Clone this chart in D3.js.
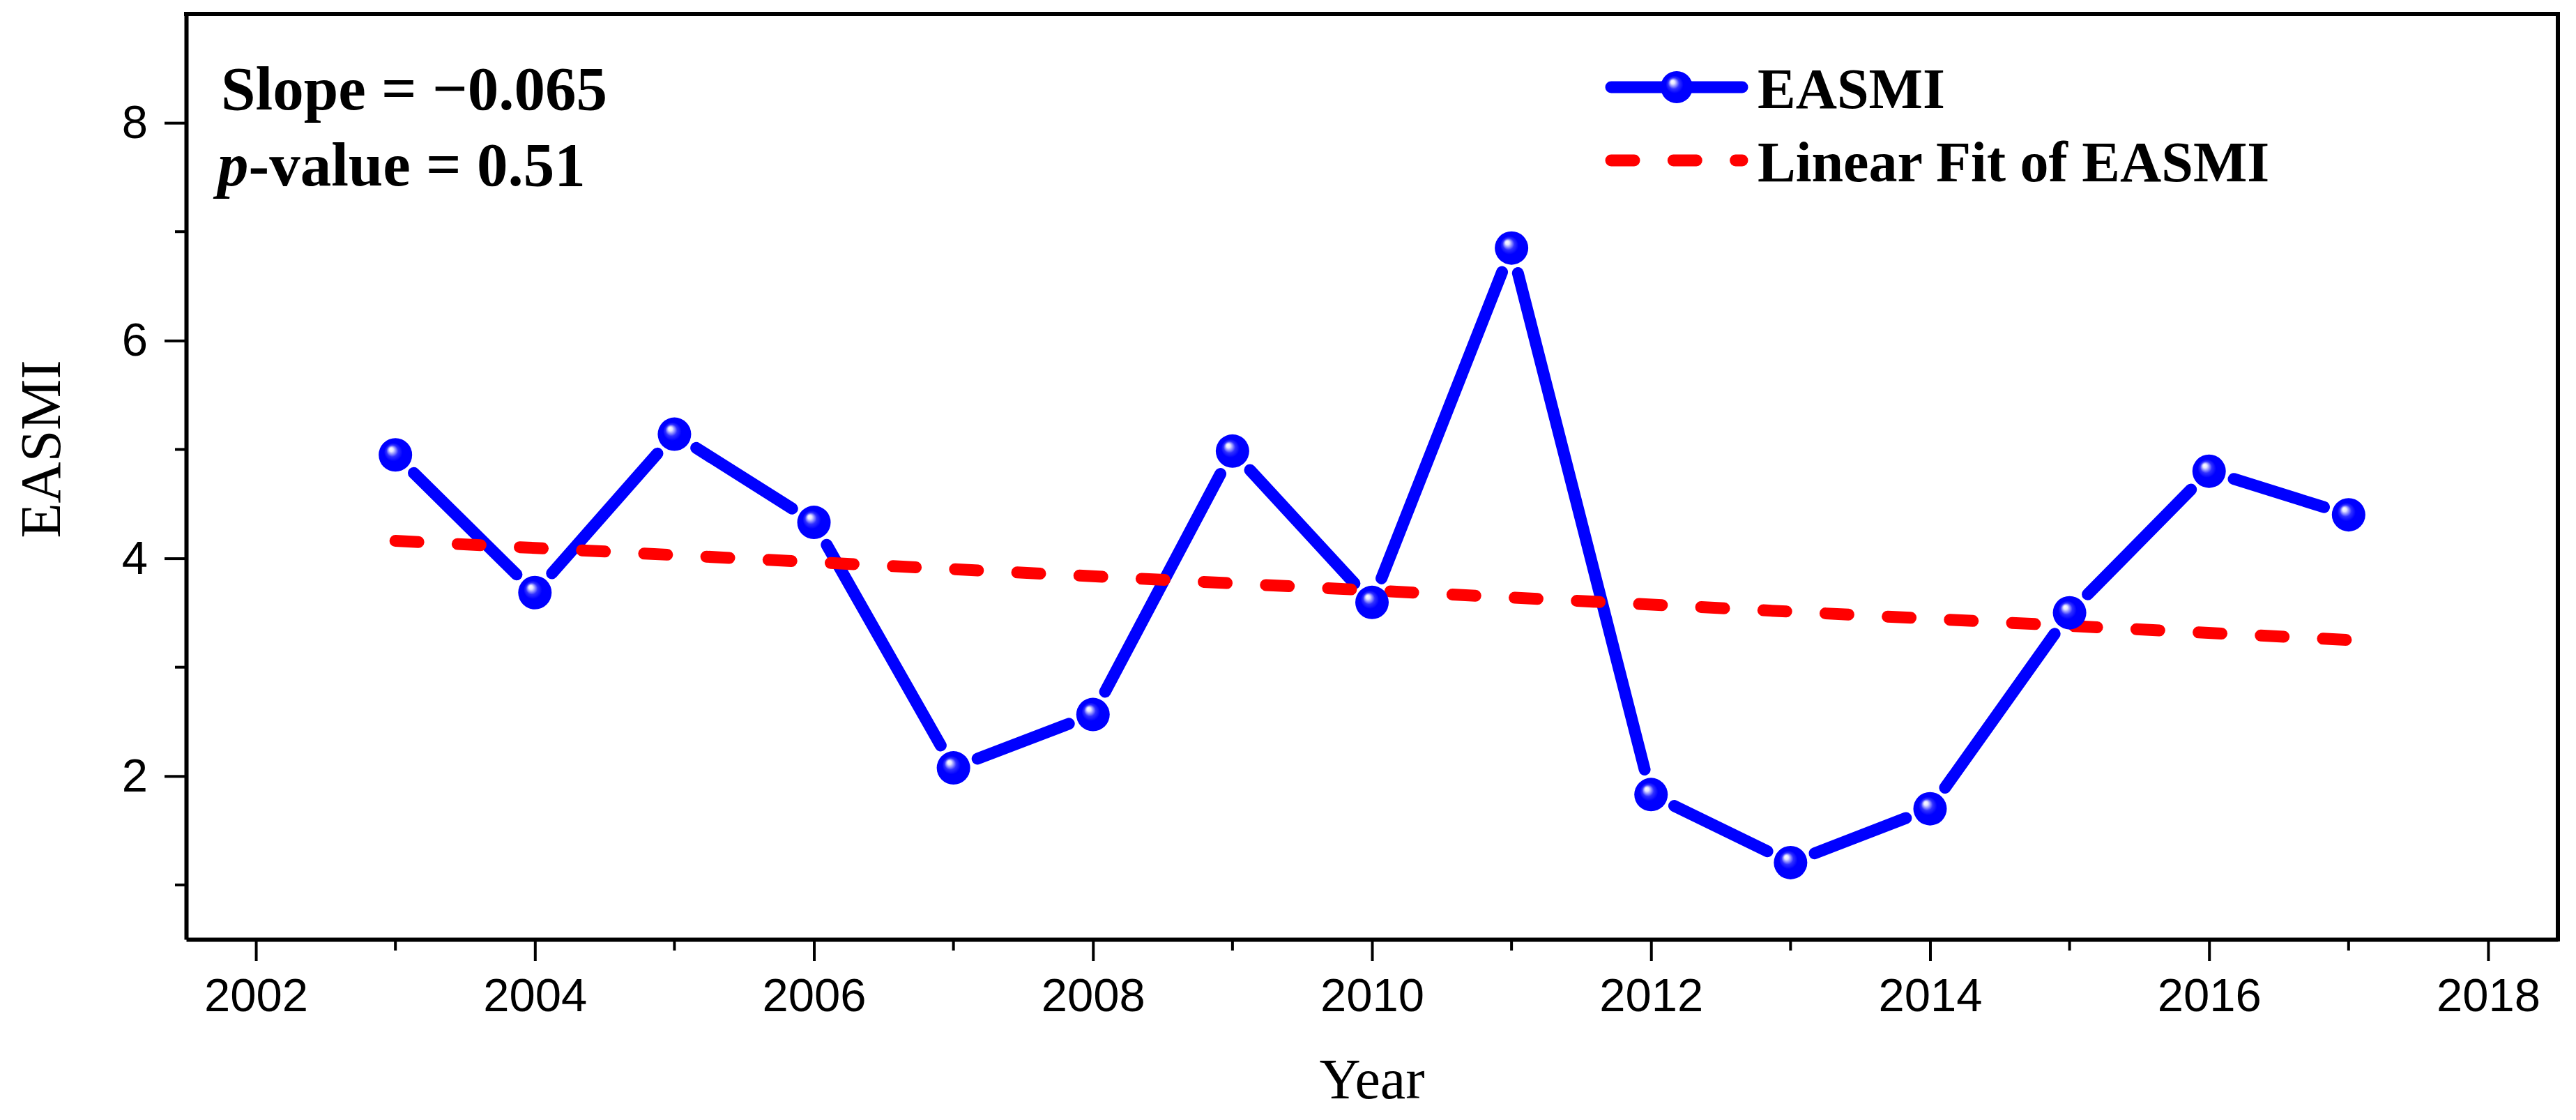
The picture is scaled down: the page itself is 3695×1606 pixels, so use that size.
<!DOCTYPE html>
<html>
<head>
<meta charset="utf-8">
<script src="https://cdn.jsdelivr.net/npm/d3@7/dist/d3.min.js"></script>
<style>
  html, body { margin: 0; padding: 0; background: #ffffff; }
  svg { display: block; }
</style>
</head>
<body>
<div id="chart"></div>
<script>
// ---- data ----
const years = [2003, 2004, 2005, 2006, 2007, 2008, 2009, 2010, 2011, 2012, 2013, 2014, 2015, 2016, 2017];
const easmi = [4.95, 3.685, 5.14, 4.33, 2.075, 2.565, 4.985, 3.595, 6.85, 1.83, 1.205, 1.70, 3.50, 4.80, 4.40];
const fitYears = [2003, 2017];
const fitValues = [4.16, 3.25];
const xTickValues = [2002, 2004, 2006, 2008, 2010, 2012, 2014, 2016, 2018];
const xMinorTicks = [2003, 2005, 2007, 2009, 2011, 2013, 2015, 2017];
const yTickValues = [2, 4, 6, 8];
const yMinorTicks = [1, 3, 5, 7];
const legendLabels = ["EASMI", "Linear Fit of EASMI"];
const slopeText = "Slope = \u22120.065";
const pValueText = "-value = 0.51";

// ---- layout ----
const W = 3695, H = 1606;
const plot = { left: 267, right: 3669, top: 20, bottom: 1347 };
const BLUE = "#0000ff", RED = "#ff0000";
const SANS = "'Liberation Sans', Arial, sans-serif";
const SERIF = "'Liberation Serif', 'Times New Roman', serif";

const svg = d3.select("#chart").append("svg").attr("width", W).attr("height", H);

const defs = svg.append("defs");
const grad = defs.append("radialGradient").attr("id", "ball")
  .attr("cx", "0.5").attr("cy", "0.5").attr("r", "0.5")
  .attr("fx", "0.36").attr("fy", "0.32");
grad.append("stop").attr("offset", "0%").attr("stop-color", "#ffffff");
grad.append("stop").attr("offset", "12%").attr("stop-color", "#e6e6ff");
grad.append("stop").attr("offset", "35%").attr("stop-color", "#3030ff");
grad.append("stop").attr("offset", "55%").attr("stop-color", BLUE);
grad.append("stop").attr("offset", "100%").attr("stop-color", BLUE);

const x = d3.scaleLinear().domain([2001.5, 2018.5]).range([plot.left, plot.right]);
const y = d3.scaleLinear().domain([0.5, 9]).range([plot.bottom, plot.top]);

// ---- axes ----
const xAxis = svg.append("g").attr("transform", `translate(0,${plot.bottom})`)
  .call(d3.axisBottom(x).tickValues(xTickValues).tickFormat(d3.format("d"))
        .tickSize(31).tickSizeOuter(0).tickPadding(24));
xAxis.selectAll("text").attr("font-family", SANS).attr("font-size", 67).attr("fill", "#000");
xAxis.selectAll(".tick line").attr("stroke", "#000").attr("stroke-width", 4);
xAxis.select(".domain").attr("stroke", "#000").attr("stroke-width", 6);
xAxis.selectAll(".minor").data(xMinorTicks).enter().append("line")
  .attr("class", "minor").attr("x1", d => x(d)).attr("x2", d => x(d))
  .attr("y1", 0).attr("y2", 16).attr("stroke", "#000").attr("stroke-width", 4);

const yAxis = svg.append("g").attr("transform", `translate(${plot.left},0)`)
  .call(d3.axisLeft(y).tickValues(yTickValues).tickFormat(d3.format("d"))
        .tickSize(31).tickSizeOuter(0).tickPadding(24));
yAxis.selectAll("text").attr("font-family", SANS).attr("font-size", 67).attr("fill", "#000");
yAxis.selectAll(".tick line").attr("stroke", "#000").attr("stroke-width", 4);
yAxis.select(".domain").attr("stroke", "#000").attr("stroke-width", 6);
yAxis.selectAll(".minor").data(yMinorTicks).enter().append("line")
  .attr("class", "minor").attr("y1", d => y(d)).attr("y2", d => y(d))
  .attr("x1", 0).attr("x2", -16).attr("stroke", "#000").attr("stroke-width", 4);

// frame top & right
svg.append("path")
  .attr("d", `M${plot.left},${plot.top}H${plot.right}V${plot.bottom}`)
  .attr("fill", "none").attr("stroke", "#000").attr("stroke-width", 6)
  .attr("stroke-linecap", "square");

// axis titles
svg.append("text").attr("x", (plot.left + plot.right) / 2).attr("y", 1575)
  .attr("text-anchor", "middle").attr("font-family", SERIF).attr("font-size", 82)
  .text("Year");
svg.append("text").attr("transform", "translate(86,644) rotate(-90)")
  .attr("text-anchor", "middle").attr("font-family", SERIF).attr("font-size", 82)
  .text("EASMI");

// ---- data line (segments with gaps around markers) ----
const pts = years.map((yr, i) => [x(yr), y(easmi[i])]);
const GAP = 37;
const segs = d3.pairs(pts).map(([a, b]) => {
  const dx = b[0] - a[0], dy = b[1] - a[1];
  const L = Math.hypot(dx, dy);
  const ux = dx / L, uy = dy / L;
  return [a[0] + ux * GAP, a[1] + uy * GAP, b[0] - ux * GAP, b[1] - uy * GAP];
});
svg.append("g").selectAll("line").data(segs).enter().append("line")
  .attr("x1", d => d[0]).attr("y1", d => d[1]).attr("x2", d => d[2]).attr("y2", d => d[3])
  .attr("stroke", BLUE).attr("stroke-width", 17).attr("stroke-linecap", "round");

// ---- linear fit ----
const fitLine = d3.line().x(d => x(d[0])).y(d => y(d[1]));
svg.append("path").datum(fitYears.map((yr, i) => [yr, fitValues[i]]))
  .attr("d", fitLine).attr("fill", "none").attr("stroke", RED)
  .attr("stroke-width", 17).attr("stroke-linecap", "round")
  .attr("stroke-dasharray", "33,56.3");

// ---- markers ----
svg.append("g").selectAll("circle").data(pts).enter().append("circle")
  .attr("cx", d => d[0]).attr("cy", d => d[1]).attr("r", 24)
  .attr("fill", "url(#ball)");

// ---- annotation ----
svg.append("text").attr("x", 317).attr("y", 157)
  .attr("font-family", SERIF).attr("font-weight", "bold").attr("font-size", 89)
  .text(slopeText);
const pv = svg.append("text").attr("x", 312).attr("y", 266)
  .attr("font-family", SERIF).attr("font-weight", "bold").attr("font-size", 89);
pv.append("tspan").attr("font-style", "italic").text("p");
pv.append("tspan").text(pValueText);

// ---- legend ----
const lg = svg.append("g");
const lgX0 = 2303, lgX1 = 2507, lgMid = 2405;
const rows = [125, 230];
lg.append("line").attr("x1", lgX0 + 8).attr("x2", lgX1 - 8).attr("y1", rows[0]).attr("y2", rows[0])
  .attr("stroke", BLUE).attr("stroke-width", 17).attr("stroke-linecap", "round");
lg.append("circle").attr("cx", lgMid).attr("cy", rows[0]).attr("r", 23).attr("fill", "url(#ball)");
lg.append("line").attr("x1", lgX0 + 8).attr("x2", lgX1 - 8).attr("y1", rows[1]).attr("y2", rows[1])
  .attr("stroke", RED).attr("stroke-width", 17).attr("stroke-linecap", "round")
  .attr("stroke-dasharray", "33,56.3");
lg.selectAll("text").data(legendLabels).enter().append("text")
  .attr("x", 2521).attr("y", (d, i) => rows[i] + 30)
  .attr("font-family", SERIF).attr("font-weight", "bold").attr("font-size", 82)
  .text(d => d);
</script>
</body>
</html>
